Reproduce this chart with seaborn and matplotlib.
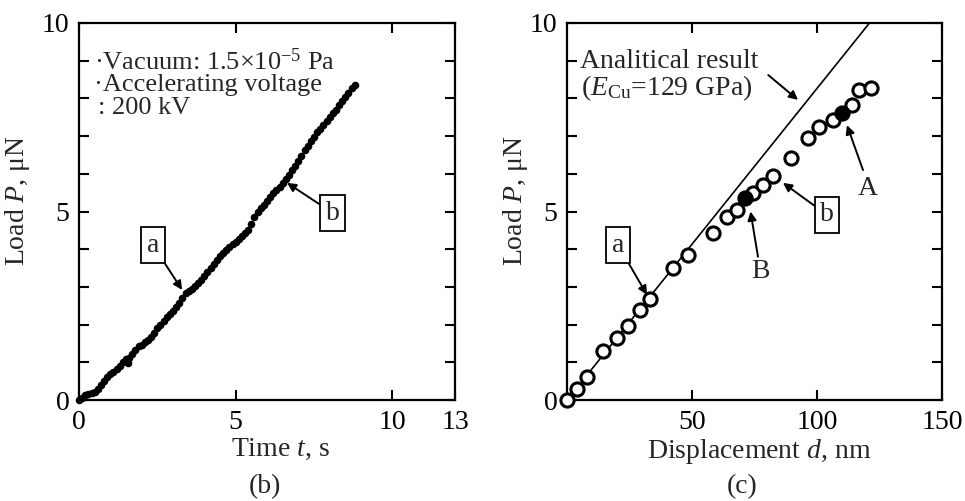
import matplotlib
matplotlib.use("Agg")
import matplotlib.pyplot as plt
import seaborn as sns
import pandas as pd
from matplotlib.ticker import MultipleLocator

# ---------------- data ----------------
# (b) load vs time
time_s = [0.0, 0.1, 0.2, 0.3, 0.4, 0.5, 0.6, 0.7, 0.8, 0.9,
          1.0, 1.1, 1.2, 1.3, 1.4, 1.5, 1.55, 1.6, 1.7, 1.8, 1.9,
          2.0, 2.1, 2.2, 2.3, 2.4, 2.5, 2.6, 2.7, 2.8, 2.9,
          3.0, 3.1, 3.2, 3.3, 3.4, 3.5, 3.6, 3.7, 3.8, 3.9,
          4.0, 4.1, 4.2, 4.3, 4.4, 4.5, 4.6, 4.7, 4.8, 4.9,
          5.0, 5.1, 5.2, 5.3, 5.4, 5.5, 5.6, 5.7, 5.8, 5.9,
          6.0, 6.1, 6.2, 6.3, 6.4, 6.5, 6.6, 6.7, 6.8, 6.9,
          7.0, 7.1, 7.2, 7.3, 7.4, 7.5, 7.6, 7.7, 7.8, 7.9,
          8.0, 8.1, 8.2, 8.3, 8.4, 8.5, 8.6, 8.7, 8.8]
load_b = [0.00, 0.06, 0.12, 0.16, 0.19, 0.22, 0.30, 0.40, 0.50, 0.60,
          0.68, 0.74, 0.82, 0.90, 1.00, 1.08, 0.98, 1.12, 1.22, 1.33, 1.42,
          1.47, 1.53, 1.60, 1.67, 1.78, 1.90, 2.00, 2.10, 2.20, 2.29,
          2.37, 2.46, 2.56, 2.70, 2.83, 2.88, 2.94, 3.02, 3.10, 3.18,
          3.28, 3.40, 3.50, 3.60, 3.72, 3.83, 3.90, 3.98, 4.06, 4.13,
          4.20, 4.27, 4.35, 4.43, 4.52, 4.68, 4.85, 5.00, 5.10, 5.18,
          5.28, 5.38, 5.48, 5.57, 5.66, 5.75, 5.85, 5.98, 6.10, 6.22,
          6.34, 6.48, 6.62, 6.75, 6.86, 6.98, 7.10, 7.20, 7.30, 7.40,
          7.50, 7.60, 7.70, 7.82, 7.92, 8.03, 8.15, 8.28, 8.36]

# (c) load vs displacement
disp_nm = [0.0, 4.0, 8.0, 14.4, 20.0, 24.4, 29.2, 33.2, 42.4, 48.4,
           58.2, 64.0, 68.0, 74.2, 78.2, 82.4, 89.6, 96.4, 100.8,
           106.4, 114.0, 116.8, 121.6]
load_c = [0.00, 0.30, 0.60, 1.30, 1.64, 1.96, 2.39, 2.68, 3.50, 3.85,
          4.43, 4.85, 5.04, 5.49, 5.70, 5.94, 6.42, 6.95, 7.24,
          7.44, 7.83, 8.23, 8.28]
filled_disp = [71.2, 110.0]
filled_load = [5.35, 7.62]
analytic_disp = [0.0, 121.0]
analytic_load = [0.0, 10.0]

df_b = pd.DataFrame({"t": time_s, "P": load_b})
df_c = pd.DataFrame({"d": disp_nm, "P": load_c})
df_f = pd.DataFrame({"d": filled_disp, "P": filled_load})
df_a = pd.DataFrame({"d": analytic_disp, "P": analytic_load})

# ---------------- style ----------------
sns.set_style("ticks")
plt.rcParams["font.family"] = ["Liberation Serif", "DejaVu Serif"]
plt.rcParams["mathtext.fontset"] = "custom"
plt.rcParams["mathtext.rm"] = "Liberation Serif"
plt.rcParams["mathtext.it"] = "Liberation Serif:italic"

FS_TICK = 20
FS_LAB = 20
FS_TXT_L = 19
FS_TXT = 20

fig = plt.figure(figsize=(9.65, 5.01), dpi=100)
W, H = 965, 501


def add_ax(x0, x1, y0, y1):
    return fig.add_axes([x0 / W, 1 - y1 / H, (x1 - x0) / W, (y1 - y0) / H])


ax1 = add_ax(79, 455, 23, 400)
ax2 = add_ax(567, 942, 23, 400)

for ax in (ax1, ax2):
    for s in ax.spines.values():
        s.set_linewidth(1.6)
        s.set_color("black")
    ax.set_ylim(0, 10)
    ax.yaxis.set_major_locator(MultipleLocator(5))
    ax.yaxis.set_minor_locator(MultipleLocator(1))
    ax.tick_params(which="both", direction="in", length=7, width=1.5,
                   top=True, right=True, labelsize=FS_TICK, pad=7,
                   colors="black")

# ---- panel (b) ----
sns.scatterplot(data=df_b, x="t", y="P", ax=ax1, color="black", s=30,
                edgecolor="black", linewidth=0, clip_on=False, zorder=3)
ax1.set_xlim(0, 12)
ax1.set_xticks([0, 5, 10, 12])
ax1.set_xticklabels(["0", "5", "10", "13"])
ax1.set_xlabel(r"Time $t$, s", fontsize=FS_LAB)
ax1.xaxis.set_label_coords(0.535, -0.098, transform=ax1.transAxes)
ax1.set_ylabel(r"Load $P$, μN", fontsize=FS_LAB)
ax1.yaxis.set_label_coords(-0.125, 0.53)

ax1.text(0.48, 8.97, "·Vacuum: 1.5×10$^{\\mathrm{-5}}$ Pa", fontsize=FS_TXT_L,
         ha="left", va="center")
ax1.text(0.48, 8.36, "·Accelerating voltage", fontsize=FS_TXT_L,
         ha="left", va="center")
ax1.text(0.6, 7.75, ": 200 kV", fontsize=FS_TXT_L, ha="left", va="center")

box = dict(boxstyle="square,pad=0.2", fc="white", ec="black", lw=1.3)
arr = dict(arrowstyle="-|>", color="black", lw=1.4, mutation_scale=13,
           shrinkA=0, shrinkB=0)
ax1.annotate("a", xy=(3.29, 2.92), xytext=(2.36, 4.11), fontsize=FS_TXT,
             ha="center", va="center", bbox=box, arrowprops=arr)
ax1.annotate("b", xy=(6.64, 5.76), xytext=(8.1, 4.96), fontsize=FS_TXT,
             ha="center", va="center", bbox=box, arrowprops=arr)

# ---- panel (c) ----
sns.lineplot(data=df_a, x="d", y="P", ax=ax2, color="black", lw=1.2,
             zorder=2)
sns.scatterplot(data=df_c, x="d", y="P", ax=ax2, marker="o", s=90,
                facecolor="white", edgecolor="black", linewidth=2.2,
                clip_on=False, zorder=3)
sns.scatterplot(data=df_f, x="d", y="P", ax=ax2, marker="o", s=90,
                color="black", edgecolor="black", linewidth=2.2,
                clip_on=False, zorder=4)
ax2.set_xlim(0, 150)
ax2.set_xticks([50, 100, 150])
ax2.set_xlabel(r"Displacement $d$, nm", fontsize=FS_LAB)
ax2.xaxis.set_label_coords(0.512, -0.098, transform=ax2.transAxes)
ax2.set_ylabel(r"Load $P$, μN", fontsize=FS_LAB)
ax2.yaxis.set_label_coords(-0.099, 0.53)

ax2.text(5.2, 8.97, "Analitical result", fontsize=FS_TXT, ha="left",
         va="center")
ax2.text(5.6, 8.28, "($E_{\\mathrm{Cu}}$=129 GPa)", fontsize=FS_TXT,
         ha="left", va="center")
ax2.annotate("", xy=(92.4, 7.96), xytext=(80.5, 8.62), arrowprops=arr)
ax2.annotate("b", xy=(86.4, 5.76), xytext=(104.0, 4.91), fontsize=FS_TXT,
             ha="center", va="center", bbox=box, arrowprops=arr)
ax2.annotate("a", xy=(32.0, 2.79), xytext=(20.4, 4.11), fontsize=FS_TXT,
             ha="center", va="center", bbox=box, arrowprops=arr)
ax2.text(120.4, 5.62, "A", fontsize=FS_TXT, ha="center", va="center")
ax2.annotate("", xy=(112.0, 7.29), xytext=(118.4, 6.1), arrowprops=arr)
ax2.text(77.2, 3.4, "B", fontsize=FS_TXT, ha="center", va="center")
ax2.annotate("", xy=(73.4, 5.0), xytext=(76.4, 3.8), arrowprops=arr)

# sub-captions
fig.text(265 / W, 1 - 487 / H, "(b)", fontsize=FS_LAB, ha="center",
         va="center")
fig.text(742 / W, 1 - 487 / H, "(c)", fontsize=FS_LAB, ha="center",
         va="center")

fig.savefig("out.png", dpi=100, facecolor="white")
